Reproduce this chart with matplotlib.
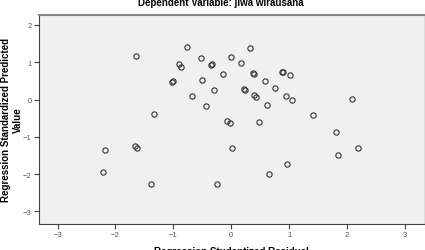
import matplotlib.pyplot as plt

plt.rcParams['font.family'] = ['Liberation Sans', 'DejaVu Sans']

# studentized residual (x) and standardized predicted value (y)
resid = [-1.64, -0.77, -0.53, -0.35, -0.33, 0.00, 0.16, -0.91, -0.87, -0.14,
         -1.02, -1.00, -0.51, -0.30, -0.68, -0.44, -1.33, -0.07, -0.02, 0.33,
         0.37, 0.40, 0.90, 0.88, 1.02, 0.58, 0.24, 0.22, 0.39, 0.43,
         0.75, 0.95, 1.05, 2.08, 0.61, 1.41, 0.48, -2.18, -1.67, -1.62,
         0.02, -2.21, -1.39, -0.24, 1.81, 2.19, 1.84, 0.96, 0.65]
pred = [1.17, 1.41, 1.12, 0.93, 0.95, 1.15, 0.99, 0.96, 0.88, 0.69,
        0.48, 0.50, 0.52, 0.26, 0.09, -0.17, -0.39, -0.58, -0.62, 1.39,
        0.71, 0.69, 0.73, 0.75, 0.66, 0.49, 0.26, 0.28, 0.11, 0.08,
        0.32, 0.09, 0.00, 0.02, -0.15, -0.42, -0.60, -1.35, -1.25, -1.29,
        -1.31, -1.94, -2.26, -2.26, -0.88, -1.30, -1.50, -1.73, -1.99]
xticks = [-3, -2, -1, 0, 1, 2, 3]
yticks = [-3, -2, -1, 0, 1, 2]

fig = plt.figure(figsize=(4.25, 2.51), dpi=100)
ax = fig.add_axes([0.0906, 0.105, 0.907, 0.833])
ax.set_facecolor('#f0f0f0')

ax.plot(resid, pred, 'o', mfc='none', mec='#333333', ms=3.8, mew=0.8)

ax.set_xlim(-3.33, 3.33)
ax.set_ylim(-3.33, 2.28)
ax.set_xticks(xticks)
ax.set_yticks(yticks)
ax.tick_params(labelsize=5.5, labelcolor='#555555', length=3.5, width=0.8, color='#444444', pad=1.5)

ax.spines['top'].set_color('#888888')
ax.spines['top'].set_linewidth(1.5)
ax.spines['right'].set_color('#dddddd')
ax.spines['left'].set_color('#444444')
ax.spines['bottom'].set_color('#444444')

ax.set_xlabel('Regression Studentized Residual', fontsize=7, fontweight='bold')
ax.xaxis.set_label_coords(0.5, -0.105)
ax.set_ylabel('Regression Standardized Predicted\nValue', fontsize=7, fontweight='bold', linespacing=1.2)
ax.yaxis.set_label_coords(-0.041, 0.5)
fig.text(0.52, 0.99, 'Dependent Variable: jiwa wirausaha', fontsize=7, fontweight='bold', ha='center', va='center')

fig.savefig('out.png', dpi=100)
